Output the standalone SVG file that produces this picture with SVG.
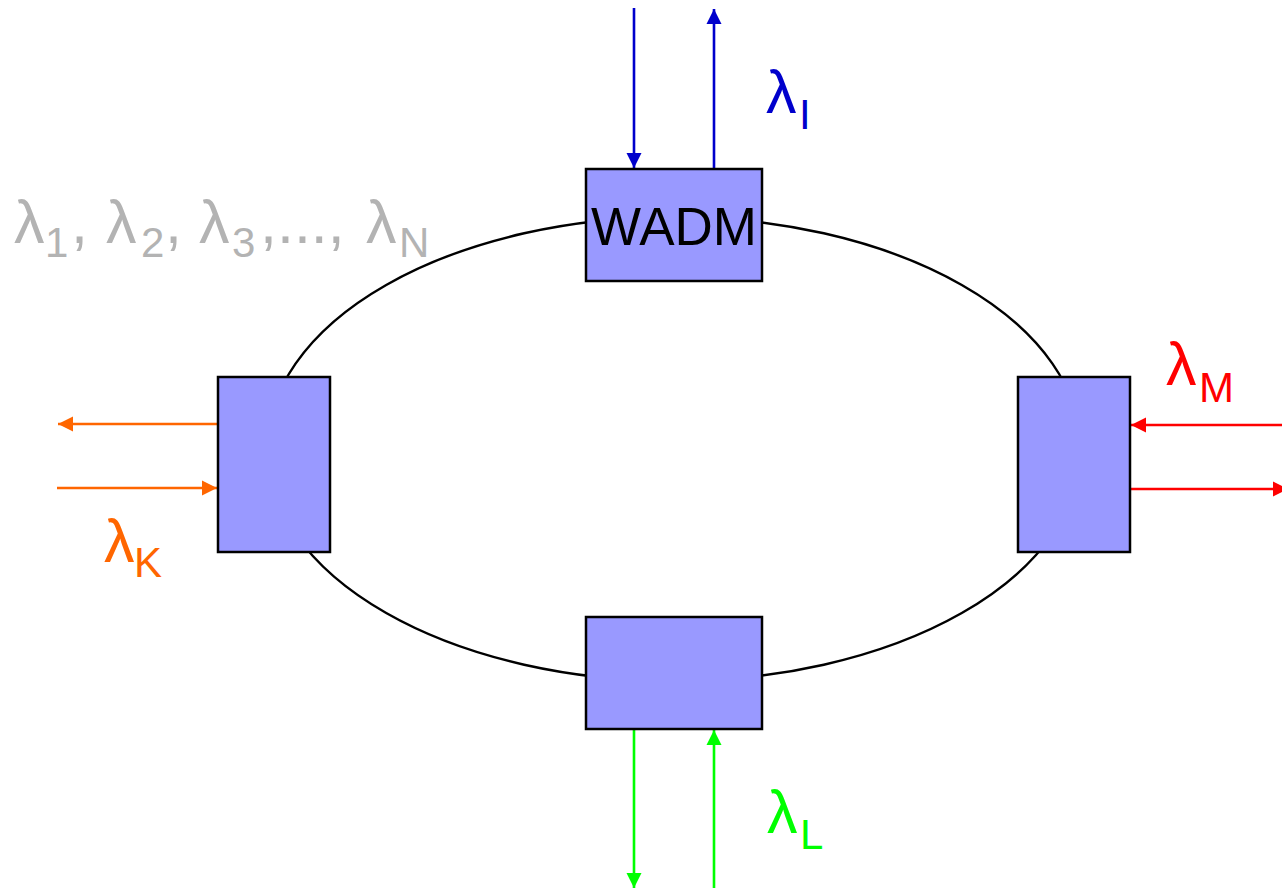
<svg xmlns="http://www.w3.org/2000/svg" width="1282" height="888" viewBox="0 0 1282 888">
<style>
.node{fill:#9999FF;stroke:#000;stroke-width:2.5}
.ring{fill:none;stroke:#000;stroke-width:2.4}
.lbl{font-family:"Liberation Sans",Arial,sans-serif;font-size:61px}
.sub{font-size:42px}
.wadm{font-family:"Liberation Sans",Arial,sans-serif;font-size:53px;fill:#000}
.blue{stroke:#0000CC;fill:none;stroke-width:2.6}
.red{stroke:#FF0000;fill:none;stroke-width:2.6}
.orange{stroke:#FF6600;fill:none;stroke-width:2.6}
.green{stroke:#00FF00;fill:none;stroke-width:2.6}
</style>
<defs>
<marker id="aB" markerUnits="userSpaceOnUse" markerWidth="16" markerHeight="16" refX="15" refY="8" orient="auto"><path d="M0,0.5 L15,8 L0,15.5 Z" fill="#0000CC"/></marker>
<marker id="aR" markerUnits="userSpaceOnUse" markerWidth="16" markerHeight="16" refX="15" refY="8" orient="auto"><path d="M0,0.5 L15,8 L0,15.5 Z" fill="#FF0000"/></marker>
<marker id="aO" markerUnits="userSpaceOnUse" markerWidth="16" markerHeight="16" refX="15" refY="8" orient="auto"><path d="M0,0.5 L15,8 L0,15.5 Z" fill="#FF6600"/></marker>
<marker id="aG" markerUnits="userSpaceOnUse" markerWidth="16" markerHeight="16" refX="15" refY="8" orient="auto"><path d="M0,0.5 L15,8 L0,15.5 Z" fill="#00FF00"/></marker>
</defs>
<rect width="1282" height="888" fill="#fff"/>
<g id="connectors">
<ellipse class="ring" cx="674" cy="449" rx="407" ry="232"/>
<line class="blue" x1="634" y1="8" x2="634" y2="168" marker-end="url(#aB)"/>
<line class="blue" x1="714" y1="169" x2="714" y2="9" marker-end="url(#aB)"/>
<line class="red" x1="1282" y1="425" x2="1131" y2="425" marker-end="url(#aR)"/>
<line class="red" x1="1130" y1="489" x2="1288" y2="489" marker-end="url(#aR)"/>
<line class="orange" x1="218" y1="424" x2="58" y2="424" marker-end="url(#aO)"/>
<line class="orange" x1="57" y1="488" x2="217" y2="488" marker-end="url(#aO)"/>
<line class="green" x1="634" y1="729" x2="634" y2="888" marker-end="url(#aG)"/>
<line class="green" x1="714" y1="888" x2="714" y2="730" marker-end="url(#aG)"/>
</g>
<g id="node-top">
<rect class="node" x="586" y="169" width="176" height="112"/>
<text class="wadm" x="674" y="245" text-anchor="middle">WADM</text>
</g>
<g id="node-right">
<rect class="node" x="1018" y="377" width="112" height="175"/>
</g>
<g id="node-bottom">
<rect class="node" x="586" y="617" width="176" height="112"/>
</g>
<g id="node-left">
<rect class="node" x="218" y="377" width="112" height="175"/>
</g>
<g id="labels">
<text class="lbl" x="14" y="243" fill="#B3B3B3">λ<tspan class="sub" x="45" dy="14">1</tspan><tspan x="71" dy="-14">,</tspan><tspan x="106">λ</tspan><tspan class="sub" x="141" dy="14">2</tspan><tspan x="165" dy="-14">,</tspan><tspan x="199">λ</tspan><tspan class="sub" x="232" dy="14">3</tspan><tspan x="260" dy="-14">,...,</tspan><tspan x="366">λ</tspan><tspan class="sub" x="399" dy="14">N</tspan></text>
<text class="lbl" x="766" y="113" fill="#0000CC">λ<tspan class="sub" x="799" dy="16">I</tspan></text>
<text class="lbl" x="1166" y="385" fill="#FF0000">λ<tspan class="sub" x="1199" dy="17">M</tspan></text>
<text class="lbl" x="104" y="562" fill="#FF6600">λ<tspan class="sub" x="134" dy="15">K</tspan></text>
<text class="lbl" x="767" y="833" fill="#00FF00">λ<tspan class="sub" x="800" dy="16">L</tspan></text>
</g>
</svg>
